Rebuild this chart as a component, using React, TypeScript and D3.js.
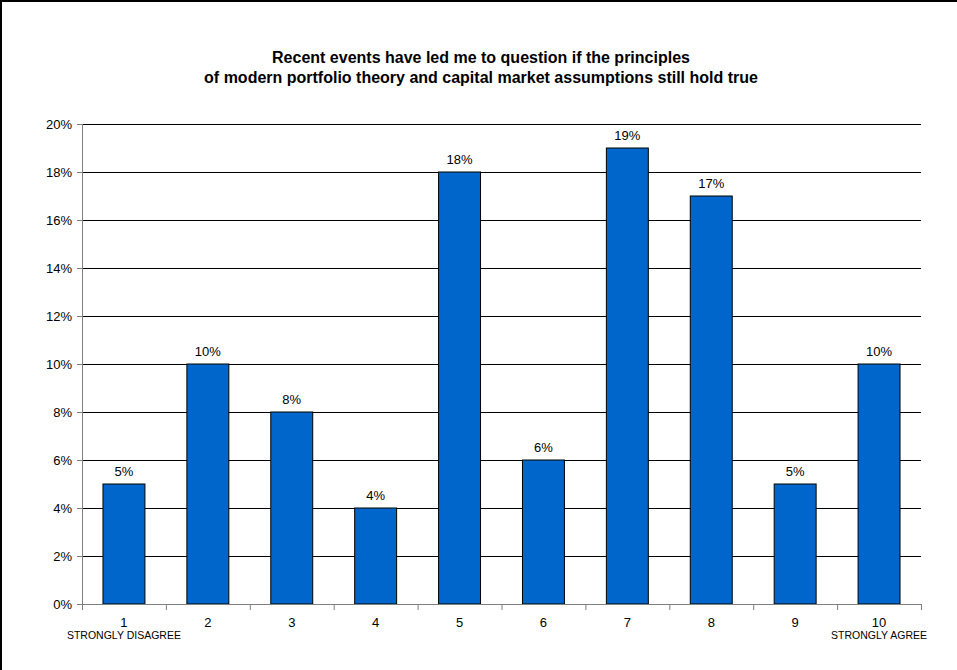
import React from "react";
import * as d3 from "d3";

// survey answers, 1 = strongly disagree ... 10 = strongly agree
const categories = ["1", "2", "3", "4", "5", "6", "7", "8", "9", "10"];
const shares = [5, 10, 8, 4, 18, 6, 19, 17, 5, 10];
const yTicks = [0, 2, 4, 6, 8, 10, 12, 14, 16, 18, 20];
const endLabels = [
  { cat: "1", text: "STRONGLY DISAGREE" },
  { cat: "10", text: "STRONGLY AGREE" },
];
const titleLines = [
  "Recent events have led me to question if the principles",
  "of modern portfolio theory and capital market assumptions still hold true",
];

const W = 957;
const H = 670;
const margin = { top: 124, right: 36, bottom: 66, left: 82 };
const font = "Arial, 'Liberation Sans', sans-serif";

const App = () => {
  const x = d3
    .scaleBand()
    .domain(categories)
    .range([margin.left, W - margin.right])
    .paddingInner(0.5)
    .paddingOuter(0.25);

  const y = d3
    .scaleLinear()
    .domain([0, 20])
    .range([H - margin.bottom, margin.top]);

  const x0 = margin.left;
  const x1 = W - margin.right;
  const step = x.step();
  // tick marks sit on the category boundaries
  const boundaries = d3.range(categories.length + 1).map((i) => x0 + i * step);

  return (
    <svg
      width={W}
      height={H}
      style={{ position: "absolute", left: 0, top: 0, background: "#fff" }}
      fontFamily={font}
    >
      {/* chart frame (only top and left edges are in the picture) */}
      <line x1={0} y1={1} x2={W} y2={1} stroke="#000" strokeWidth={2} />
      <line x1={1} y1={0} x2={1} y2={H} stroke="#000" strokeWidth={2} />

      {/* title */}
      <text x={481} textAnchor="middle" fontSize={16} fontWeight="bold" fill="#000">
        {titleLines.map((t, i) => (
          <tspan key={i} x={481} y={63 + i * 20}>
            {t}
          </tspan>
        ))}
      </text>

      {/* gridlines + y ticks */}
      {yTicks.map((t) => (
        <g key={t}>
          {t > 0 && (
            <line x1={x0} x2={x1} y1={y(t) + 0.5} y2={y(t) + 0.5} stroke="#000" strokeWidth={1} />
          )}
          <line x1={x0 - 5} x2={x0} y1={y(t) + 0.5} y2={y(t) + 0.5} stroke="#808080" />
          <text
            x={x0 - 10}
            y={y(t) + 5}
            textAnchor="end"
            fontSize={13}
            fill="#000"
          >
            {t}%
          </text>
        </g>
      ))}

      {/* bars */}
      {shares.map((v, i) => (
        <g key={categories[i]}>
          <rect
            x={x(categories[i])}
            y={y(v)}
            width={x.bandwidth()}
            height={y(0) - y(v)}
            fill="#0066CC"
            stroke="#000"
            strokeWidth={1}
          />
          <text
            x={x(categories[i]) + x.bandwidth() / 2}
            y={y(v) - 8}
            textAnchor="middle"
            fontSize={13}
            fill="#000"
          >
            {v}%
          </text>
        </g>
      ))}

      {/* axes */}
      <line x1={x0 + 0.5} x2={x0 + 0.5} y1={margin.top} y2={y(0)} stroke="#808080" />
      <line x1={x0} x2={x1} y1={y(0) + 0.5} y2={y(0) + 0.5} stroke="#808080" />
      {boundaries.map((b, i) => (
        <line key={i} x1={b + 0.5} x2={b + 0.5} y1={y(0)} y2={y(0) + 6} stroke="#808080" />
      ))}

      {/* category labels */}
      {categories.map((c) => (
        <text
          key={c}
          x={x(c) + x.bandwidth() / 2}
          y={y(0) + 23}
          textAnchor="middle"
          fontSize={13}
          fill="#000"
        >
          {c}
        </text>
      ))}
      {endLabels.map((d) => (
        <text
          key={d.cat}
          x={x(d.cat) + x.bandwidth() / 2}
          y={y(0) + 35}
          textAnchor="middle"
          fontSize={10.5}
          fill="#000"
        >
          {d.text}
        </text>
      ))}
    </svg>
  );
};

export default App;
